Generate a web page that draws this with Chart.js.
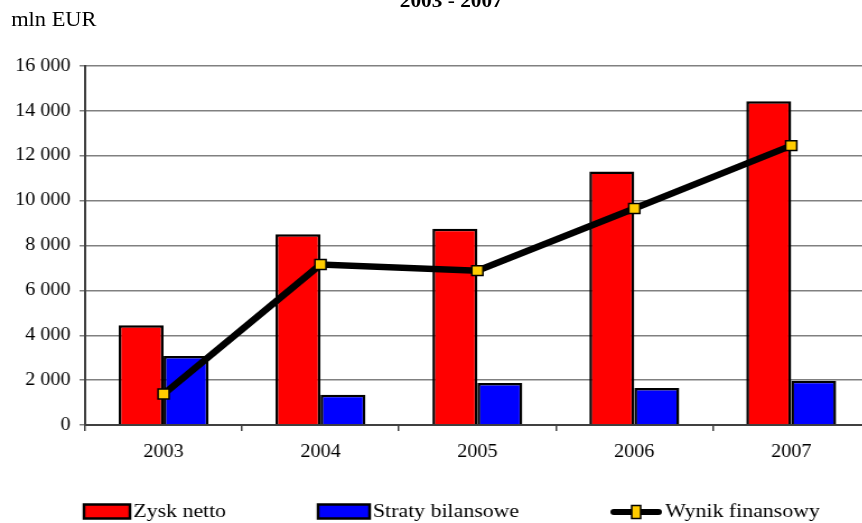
<!DOCTYPE html>
<html>
<head>
<meta charset="utf-8">
<script src="https://cdn.jsdelivr.net/npm/chart.js@4.4.0/dist/chart.umd.min.js"></script>
<style>
html, body { margin:0; padding:0; overflow:hidden; background:#fff; }
#okno { width:862px; height:523px; overflow:hidden; position:relative; }
/* tutto il disegno e' leggermente allargato in orizzontale come nell'originale */
#rozciag { position:absolute; left:0; top:0; width:785px; height:523px; transform:scaleX(1.12); transform-origin:0 0; }
canvas { position:absolute; left:0; top:0; }
.tekst { position:absolute; font-family:"Liberation Serif", "Times New Roman", serif; font-size:19px; line-height:19px; color:#000; white-space:nowrap; }
</style>
</head>
<body>
<div id="okno">
  <div id="rozciag">
    <canvas id="wykres" width="785" height="523"></canvas>
    <div class="tekst" style="left:357px; top:-9px; font-weight:bold;">2003 - 2007</div>
    <div class="tekst" style="left:10px; top:10px; font-size:20px;">mln EUR</div>
  </div>
</div>
<script>
// dati (mln EUR)
var lata = ["2003", "2004", "2005", "2006", "2007"];
var zyskNetto = [4450, 8500, 8750, 11300, 14430];
var stratyBilansowe = [3080, 1350, 1870, 1650, 1970];
var wynikFinansowy = [1380, 7150, 6880, 9650, 12450];
var osYmin = 0, osYmax = 16000, osYkrok = 2000;

var rodzina = "'Liberation Serif', 'Times New Roman', serif";
var czcionkaOsi = {family: rodzina, size: 18};
var czcionkaLegendy = {family: rodzina, size: 19.5};

// legenda disegnata a mano: posizioni in coordinate del canvas
var legendaPlugin = {
    id: "legendaPlugin",
    afterDraw: function(chart){
        let ctx = chart.ctx;
        let pozycje = [{x:75, w:41}, {x:284, w:46}, {x:545, w:46}];
        ctx.save();
        ctx.font = czcionkaLegendy.size + "px " + czcionkaLegendy.family;
        ctx.textBaseline = "middle";
        ctx.fillStyle = "#000";
        for(let i=0; i<chart.data.datasets.length; i++){
            let ds = chart.data.datasets[i];
            let p = pozycje[i];
            if(ds.type === "line"){
                ctx.strokeStyle = "#000";
                ctx.lineWidth = 6;
                ctx.lineCap = "round";
                ctx.beginPath();
                ctx.moveTo(p.x + 3, 512);
                ctx.lineTo(p.x + p.w - 3, 512);
                ctx.stroke();
                ctx.fillStyle = ds.pointBackgroundColor;
                ctx.lineWidth = 1.5;
                ctx.fillRect(p.x + p.w/2 - 4, 505.5, 8, 13);
                ctx.strokeRect(p.x + p.w/2 - 4, 505.5, 8, 13);
            } else {
                ctx.fillStyle = ds.backgroundColor;
                ctx.strokeStyle = "#000";
                ctx.lineWidth = 2.5;
                ctx.fillRect(p.x, 504.5, p.w, 14);
                ctx.strokeRect(p.x, 504.5, p.w, 14);
            }
            ctx.fillStyle = "#000";
            ctx.fillText(ds.label, p.x + p.w + 3, 512);
        }
        ctx.restore();
    }
};

window.onload = function(){
    let canvas = document.getElementById("wykres");
    let grafico = new Chart(canvas, {
        type: "bar",
        data: {
            labels: lata,
            datasets: [
                {
                    label: "Zysk netto",
                    data: zyskNetto,
                    backgroundColor: "#FF0000",
                    borderColor: "#000",
                    borderWidth: 2.5,
                    order: 1
                },
                {
                    label: "Straty bilansowe",
                    data: stratyBilansowe,
                    backgroundColor: "#0000FF",
                    borderColor: "#000",
                    borderWidth: 2.5,
                    order: 1
                },
                {
                    type: "line",
                    label: "Wynik finansowy",
                    data: wynikFinansowy,
                    borderColor: "#000",
                    borderWidth: 6.5,
                    tension: 0,
                    pointStyle: "rect",
                    pointRadius: 7,
                    pointBackgroundColor: "#FFCC00",
                    pointBorderColor: "#000",
                    pointBorderWidth: 1.5,
                    order: 0
                }
            ]
        },
        options: {
            responsive: false,
            animation: false,
            devicePixelRatio: 1,
            layout: { padding: {left:0, right:3, top:66, bottom:57} },
            datasets: { bar: { categoryPercentage: 0.573, barPercentage: 1.0 } },
            plugins: {
                legend: { display: false },
                tooltip: { enabled: false }
            },
            scales: {
                x: {
                    grid: { display: true, drawOnChartArea: false, drawTicks: true, tickLength: 6, color: "#404040", lineWidth: 1.5 },
                    border: { display: true, color: "#404040", width: 2 },
                    ticks: { color: "#000", font: czcionkaOsi, padding: 10, maxRotation: 0 },
                    afterFit: function(scale){ scale.height = 41; }
                },
                y: {
                    min: osYmin,
                    max: osYmax,
                    grid: { color: "#808080", lineWidth: 1.5, tickLength: 5 },
                    border: { display: true, color: "#404040", width: 2 },
                    ticks: {
                        stepSize: osYkrok,
                        color: "#000",
                        font: czcionkaOsi,
                        padding: 8,
                        callback: function(v){ return String(v).replace(/\B(?=(\d{3})+(?!\d))/g, " "); }
                    },
                    afterFit: function(scale){ scale.width = 76; }
                }
            }
        },
        plugins: [legendaPlugin]
    });
};
</script>
</body>
</html>
